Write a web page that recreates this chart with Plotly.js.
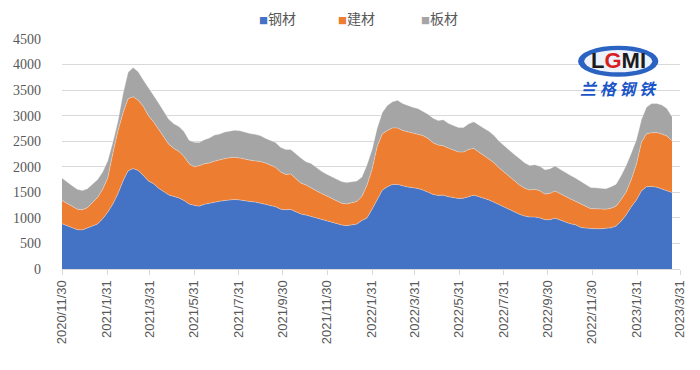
<!DOCTYPE html>
<html>
<head>
<meta charset="utf-8">
<script src="https://cdn.plot.ly/plotly-3.0.1.min.js"></script>
<style>html,body{margin:0;padding:0;background:#fff;}#chart{width:700px;height:370px;}</style>
</head>
<body>
<div id="chart"></div>
<script>
// Weekly observation dates (every 7 days from the first date)
const firstDate = '2020-11-30';
const weekCount = 121;

const seriesNames = ['钢材', '建材', '板材'];
const seriesColors = ['#4472C4', '#ED7D31', '#A5A5A5'];

// 钢材 (bottom layer)
const steel = [886,845,802,770,765,805,845,880,985,1110,
1270,1470,1720,1920,1965,1925,1830,1720,1670,1580,
1515,1450,1420,1390,1340,1270,1245,1230,1265,1290,
1310,1325,1340,1355,1360,1350,1330,1320,1310,1295,
1265,1240,1220,1170,1160,1165,1115,1076,1055,1028,
990,962,935,910,885,863,848,860,878,950,
1000,1170,1355,1540,1610,1655,1655,1625,1605,1590,
1575,1545,1495,1460,1440,1445,1415,1395,1380,1385,
1420,1445,1415,1385,1350,1305,1255,1210,1160,1115,
1070,1035,1017,1017,1000,965,965,995,955,930,
885,865,815,800,790,788,788,790,805,840,
935,1060,1220,1350,1530,1610,1615,1600,1560,1525,
1495];

// 建材 (middle layer)
const rebar = [456,445,428,400,395,395,455,520,575,670,
990,1230,1330,1410,1405,1375,1350,1280,1210,1160,
1065,990,940,910,860,790,755,790,795,785,
800,815,820,820,825,820,815,810,805,810,
810,800,770,730,690,695,645,604,590,552,
540,518,495,470,445,425,424,430,442,470,
640,780,1040,1100,1100,1105,1105,1085,1080,1075,
1075,1065,1060,1010,985,965,950,935,910,905,
920,915,875,845,810,775,720,680,640,605,
575,545,528,543,530,500,515,530,515,500,
487,460,460,420,390,392,390,380,385,390,
425,450,530,700,950,1035,1050,1070,1080,1075,
1015];

// 板材 (top layer)
const plate = [438,410,400,390,375,370,360,350,340,340,
220,190,380,520,570,560,520,560,520,510,
500,490,480,490,490,460,480,457,470,490,
510,500,520,525,530,535,530,520,520,505,
485,470,485,480,490,480,490,490,455,485,
460,435,430,425,420,422,422,410,400,380,
400,390,360,420,490,510,540,530,510,500,
490,480,475,480,480,510,485,480,480,480,
500,520,520,525,535,530,525,520,520,520,
515,500,480,480,480,475,480,490,480,470,
463,455,443,430,415,408,402,402,420,430,
470,520,520,480,450,525,575,570,570,540,
470];

const tickDates = ['2020-11-30','2021-01-31','2021-03-31','2021-05-31','2021-07-31','2021-09-30','2021-11-30',
'2022-01-31','2022-03-31','2022-05-31','2022-07-31','2022-09-30','2022-11-30','2023-01-31','2023-03-31'];
const tickLabels = ['2020/11/30','2021/1/31','2021/3/31','2021/5/31','2021/7/31','2021/9/30','2021/11/30',
'2022/1/31','2022/3/31','2022/5/31','2022/7/31','2022/9/30','2022/11/30','2023/1/31','2023/3/31'];
const yTicks = [0,500,1000,1500,2000,2500,3000,3500,4000,4500];

// build date list
const dates = [];
{
  const d0 = new Date(firstDate + 'T00:00:00Z');
  for (let i = 0; i < weekCount; i++) {
    const d = new Date(d0.getTime() + i * 7 * 86400000);
    dates.push(d.toISOString().slice(0, 10));
  }
}

const values = [steel, rebar, plate];
const traces = values.map((v, k) => ({
  type: 'scatter',
  mode: 'lines',
  x: dates,
  y: v,
  name: seriesNames[k],
  stackgroup: 'one',
  fillcolor: seriesColors[k],
  line: {width: 0.6, color: 'rgba(255,255,255,0.55)'},
  hoverinfo: 'x+y+name',
  showlegend: false
}));

const legendX = [0.315, 0.444, 0.577];
const annotations = seriesNames.map((n, k) => ({
  xref: 'paper', yref: 'paper',
  x: legendX[k], y: 1.0, yshift: 21,
  xanchor: 'left', yanchor: 'middle',
  showarrow: false,
  text: '<span style="color:' + seriesColors[k] + ';font-size:9px">■</span>' + n,
  font: {family: 'Noto Sans CJK SC', size: 14, color: '#595959'}
}));

// logo
annotations.push({
  xref: 'paper', yref: 'paper', x: 0.9, y: 0.905, xanchor: 'center', yanchor: 'middle',
  showarrow: false,
  text: '<b>L<span style="color:#d81e1e">G</span>MI</b>',
  font: {family: 'Liberation Sans', size: 22, color: '#1b1b1b'}
});
annotations.push({
  xref: 'paper', yref: 'paper', x: 0.9, y: 0.788, xanchor: 'center', yanchor: 'middle',
  showarrow: false,
  text: '<b><i>兰 格 钢 铁</i></b>',
  font: {family: 'Noto Sans CJK SC', size: 16, color: '#1a55c8'}
});

const layout = {
  width: 700, height: 370,
  margin: {l: 62, r: 20, t: 39, b: 101, pad: 0},
  paper_bgcolor: '#ffffff',
  plot_bgcolor: '#ffffff',
  showlegend: false,
  xaxis: {
    type: 'date',
    range: ['2020-11-30', '2023-03-31'],
    tickmode: 'array',
    tickvals: tickDates,
    ticktext: tickLabels,
    tickangle: -90,
    ticks: 'outside', ticklen: 5, tickcolor: '#d9d9d9',
    showline: true, linecolor: '#d9d9d9', linewidth: 1,
    showgrid: false, zeroline: false,
    tickfont: {family: 'Liberation Sans', size: 13, color: '#595959'},
    fixedrange: true
  },
  yaxis: {
    range: [0, 4500],
    tickmode: 'array',
    tickvals: yTicks,
    showgrid: true, gridcolor: '#d9d9d9', gridwidth: 1,
    zeroline: false, showline: false,
    ticks: '', ticklabelstandoff: 20,
    tickfont: {family: 'Liberation Serif', size: 14, color: '#595959'},
    fixedrange: true
  },
  shapes: [
    {type: 'circle', xref: 'paper', yref: 'paper', x0: 0.835, x1: 0.965, y0: 0.836, y1: 0.971,
     fillcolor: '#2a63c2', line: {width: 0}},
    {type: 'circle', xref: 'paper', yref: 'paper', x0: 0.845, x1: 0.955, y0: 0.855, y1: 0.952,
     fillcolor: '#eef2fa', line: {width: 0}}
  ],
  annotations: annotations
};

Plotly.newPlot('chart', traces, layout, {staticPlot: true, displayModeBar: false});
</script>
</body>
</html>
